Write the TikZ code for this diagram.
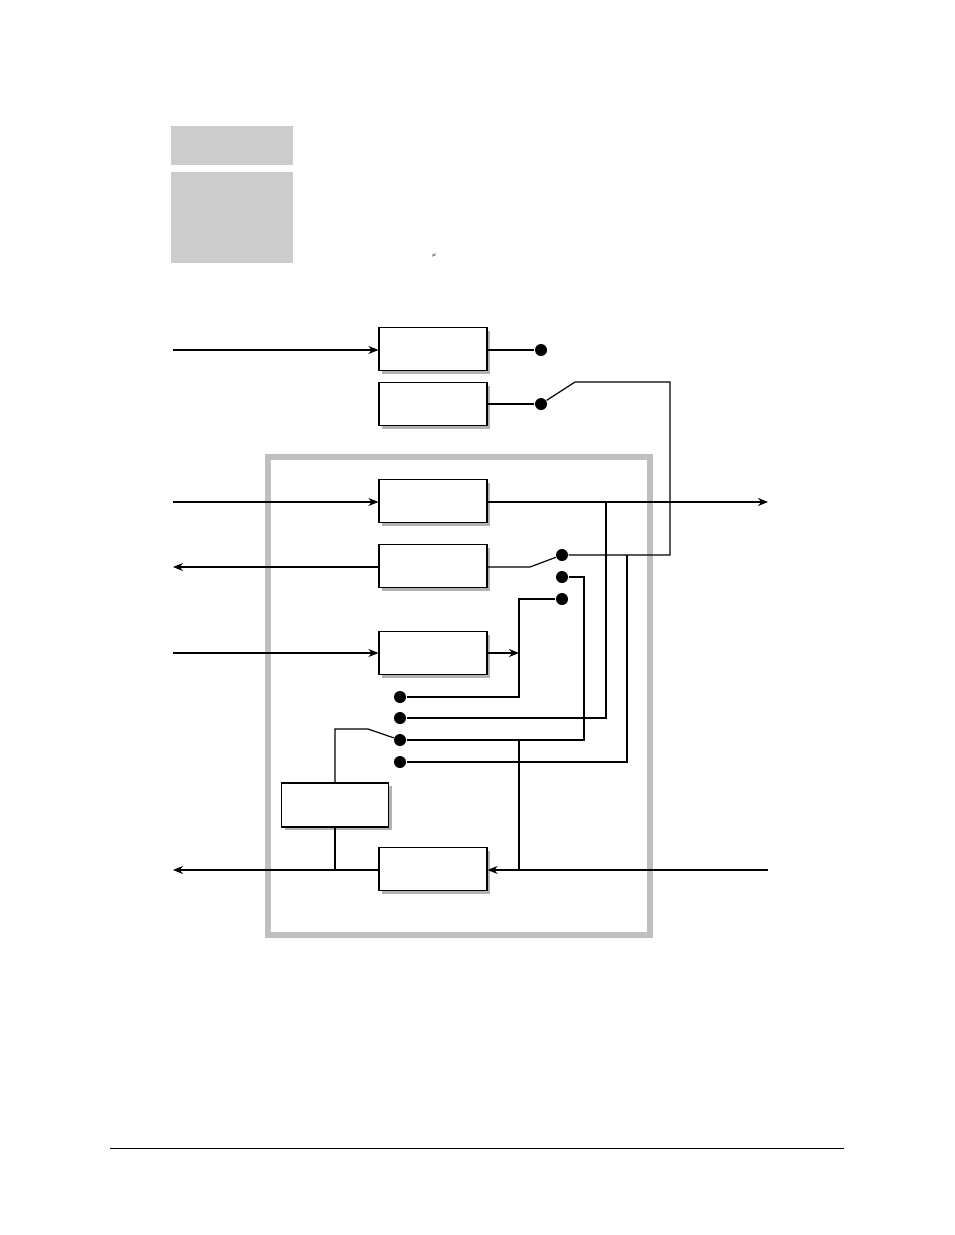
\documentclass[tikz,border=0pt]{standalone}
\usetikzlibrary{arrows.meta, positioning, shadows}
\begin{document}
\begin{tikzpicture}[x=1pt, y=-1pt, line width=1.2pt,
  blk/.style={draw, fill=white, minimum width=108pt, minimum height=43pt,
    inner sep=0pt, drop shadow={shadow xshift=3pt, shadow yshift=-3pt, fill=gray!60, opacity=1}},
  dot/.style={circle, fill=black, inner sep=0pt, minimum size=12pt},
  sig/.style={-{Stealth[length=10pt, width=8pt]}}]
\useasboundingbox (0,0) rectangle (954,1235);
% header panels
\fill[black!20] (171,126) rectangle (293,165);
\fill[black!20] (171,172) rectangle (293,263);
\node (neq) at (434,255) {\tiny$\neq$};
\draw[black!25, line width=6pt] (268,457) rectangle (650,935);
\draw[line width=0.6pt] (110,1148) -- (844,1148);
% blocks
\node[blk] (a) at (433,349) {};
\node[blk] (b) at (433,404) {};
\node[blk] (c) at (433,501) {};
\node[blk] (d) at (433,566) {};
\node[blk] (e) at (433,653) {};
\node[blk, minimum width=107pt, minimum height=44pt] (f) at (335,805) {};
\node[blk] (g) at (433,869) {};
% contacts
\node[dot] (pa) at (541,350) {};
\node[dot] (pb) at (541,404) {};
\node[dot] (s1) at (562,555) {};
\node[dot] (s2) at (562,577) {};
\node[dot] (s3) at (562,599) {};
\node[dot] (t1) at (400,697) {};
\node[dot] (t2) at (400,718) {};
\node[dot] (t3) at (400,740) {};
\node[dot] (t4) at (400,762) {};
\coordinate (ina) at (173,350);
\coordinate (inc) at (173,502);
\coordinate (outd) at (173,567);
\coordinate (ine) at (173,653);
\coordinate (outg) at (173,870);
\coordinate (outc) at (768,502);
\coordinate (ing) at (768,870);
% signals
\draw[sig] (ina) -- (a.west |- ina);
\draw[sig] (inc) -- (c.west |- inc);
\draw[sig] (d.west |- outd) -- (outd);
\draw[sig] (ine) -- (e.west |- ine);
\draw[sig] (g.west |- outg) -- (outg);
\draw[sig] (ing) -- (g.east |- ing);
\draw[sig] (c.east |- outc) -- (outc);
\draw (a.east |- pa) -- (pa);
\draw (b.east |- pb) -- (530,404) -- (pb);
\draw (pb) -- (575,382) -- (670,382) -- (670,555) -- (s1);
\draw (d.east |- outd) -- (530,567) -- (s1);
\draw (606,502) -- (606,718) -- (t2);
\draw (s2) -- (584,577) -- (584,740) -- (t3);
\draw (s3) -- (519,599) -- (519,697) -- (t1);
\draw[sig] (e.east |- ine) -- (519,653);
\draw (627,555) -- (627,762) -- (t4);
\draw (t3) -- (368,729) -- (335,729) -- (f.north);
\draw (f.south) -- (335,870);
\draw (519,740) -- (519,870);
\end{tikzpicture}
\end{document}
